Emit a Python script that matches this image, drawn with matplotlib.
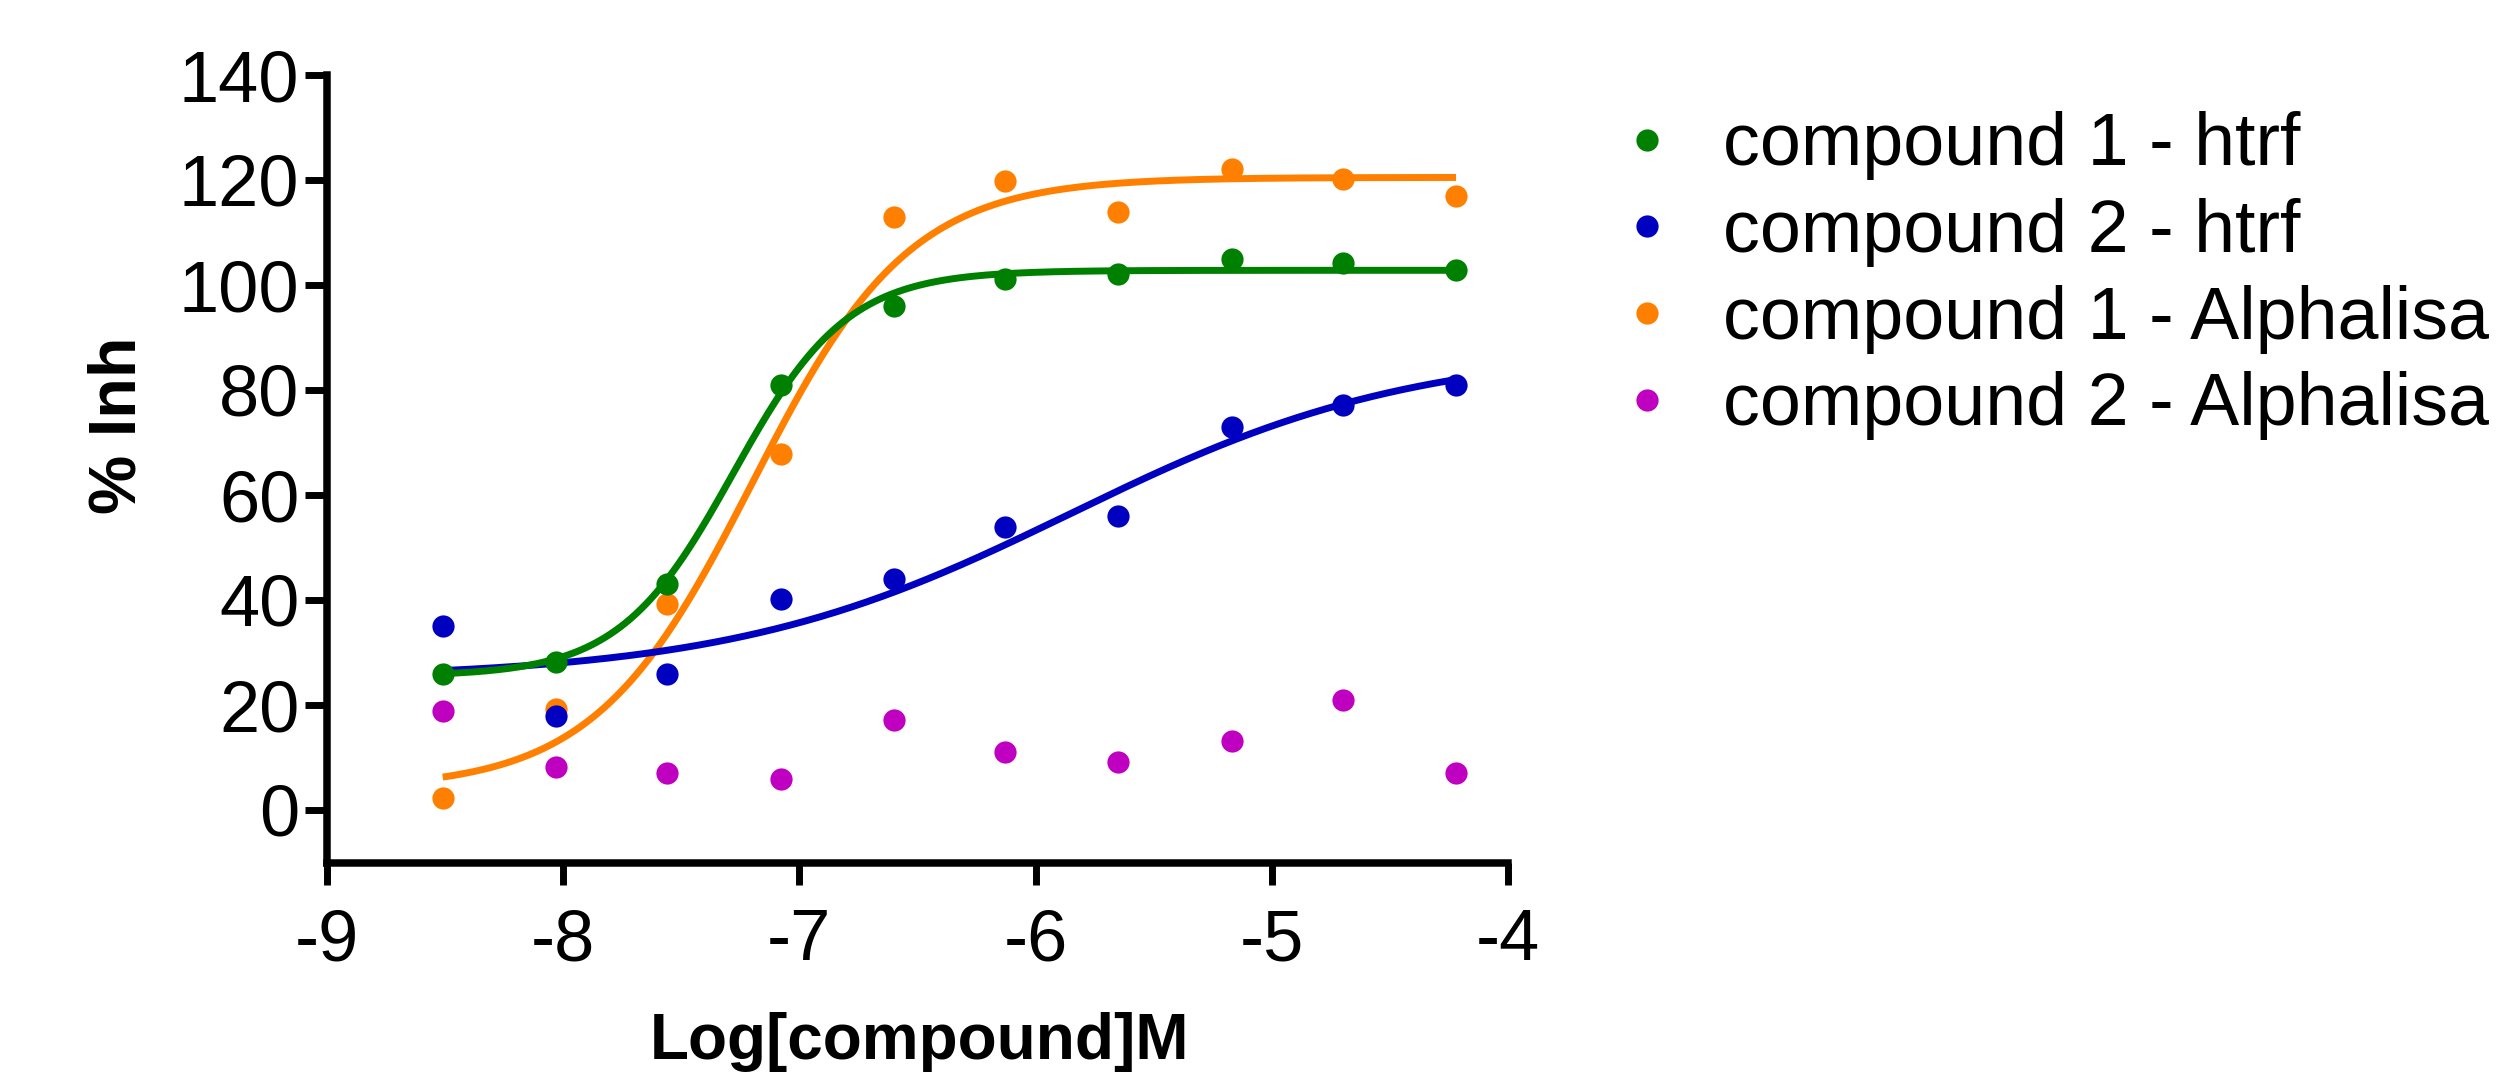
import numpy as np
import matplotlib
matplotlib.use("Agg")
import matplotlib.pyplot as plt

plt.rcParams['axes.unicode_minus'] = False

# ---- data ----
log_conc = [-8.51, -8.03, -7.56, -7.08, -6.60, -6.13, -5.65, -5.17, -4.70, -4.22]
c1_htrf = [26.0, 28.1, 43.1, 81.0, 96.0, 101.1, 102.1, 105.0, 104.2, 102.9]
c2_htrf = [35.0, 18.0, 26.0, 40.1, 44.0, 53.9, 56.0, 73.0, 77.1, 81.0]
c1_alpha = [2.2, 19.2, 39.2, 67.9, 113.0, 119.9, 114.0, 122.1, 120.1, 117.0]
c2_alpha = [18.9, 8.1, 7.1, 6.0, 17.1, 11.1, 9.1, 13.1, 21.0, 7.1]

labels = ["compound 1 - htrf", "compound 2 - htrf",
          "compound 1 - Alphalisa", "compound 2 - Alphalisa"]
colors = ["#008000", "#0000C0", "#FF8000", "#C000C0"]

# fitted 4-parameter logistic curves (bottom, top, logEC50, hill)
fit_c1_htrf = (25.5, 102.8, -7.28, 1.8)
fit_c2_htrf = (25.0, 88.0, -5.85, 0.6)
fit_c1_alpha = (4.0, 120.5, -7.20, 1.3)

xticks = [-9, -8, -7, -6, -5, -4]
yticks = [0, 20, 40, 60, 80, 100, 120, 140]

FONT = ['Liberation Sans', 'DejaVu Sans']


def four_pl(x, p):
    b, t, c, h = p
    return b + (t - b) / (1.0 + 10 ** ((c - x) * h))


fig = plt.figure(figsize=(25.08, 10.74), dpi=100)
W, H = 2508, 1074
x0, x1 = 327, 1508
yb, yt = 862.5, 75
ax = fig.add_axes([x0 / W, (H - yb) / H, (x1 - x0) / W, (yb - yt) / H])

xs = np.linspace(min(log_conc), max(log_conc), 400)
series = [
    (c1_alpha, fit_c1_alpha, colors[2], labels[2], 2),
    (c2_htrf, fit_c2_htrf, colors[1], labels[1], 3),
    (c1_htrf, fit_c1_htrf, colors[0], labels[0], 4),
    (c2_alpha, None, colors[3], labels[3], 5),
]
handles = {}
for ys, fit, col, lab, z in series:
    if fit is not None:
        ax.plot(xs, four_pl(xs, fit), color=col, lw=5.0, zorder=z,
                solid_capstyle='butt')
    h, = ax.plot(log_conc, ys, 'o', color=col, ms=16, mew=0,
                 zorder=z + 0.5, label=lab, clip_on=False)
    handles[lab] = h

ax.set_xlim(-9, -4)
ax.set_ylim(-10, 140)
ax.set_xticks(xticks)
ax.set_yticks(yticks)
ax.set_xticklabels([str(v) for v in xticks])
ax.set_yticklabels([str(v) for v in yticks])

for s in ['top', 'right']:
    ax.spines[s].set_visible(False)
for s in ['left', 'bottom']:
    ax.spines[s].set_linewidth(5.4)
    ax.spines[s].set_capstyle('projecting')

ax.tick_params(axis='both', direction='out', length=15.8, width=5.0,
               labelsize=52, color='black')
ax.tick_params(axis='x', pad=17)
ax.tick_params(axis='y', pad=4)
for t in ax.get_xticklabels() + ax.get_yticklabels():
    t.set_family(FONT)

ax.set_xlabel("Log[compound]M", fontsize=46, fontweight='bold',
              family=FONT, va='top')
ax.xaxis.set_label_coords((920 - x0) / (x1 - x0), (yb - 1012) / (yb - yt))
ax.set_ylabel("% Inh", fontsize=48, fontweight='bold', family=FONT,
              va='center', ha='center')
ax.yaxis.set_label_coords((119 - x0) / (x1 - x0), (yb - 425) / (yb - yt))

leg = fig.legend([handles[l] for l in labels], labels, loc='center left',
                 bbox_to_anchor=(1610 / W, (H - 276) / H),
                 frameon=False, prop={'family': FONT, 'size': 53},
                 handlelength=1.0, handletextpad=0.53, labelspacing=0.24,
                 borderpad=0, borderaxespad=0, markerscale=1.0)

fig.savefig("out.png", dpi=100)
